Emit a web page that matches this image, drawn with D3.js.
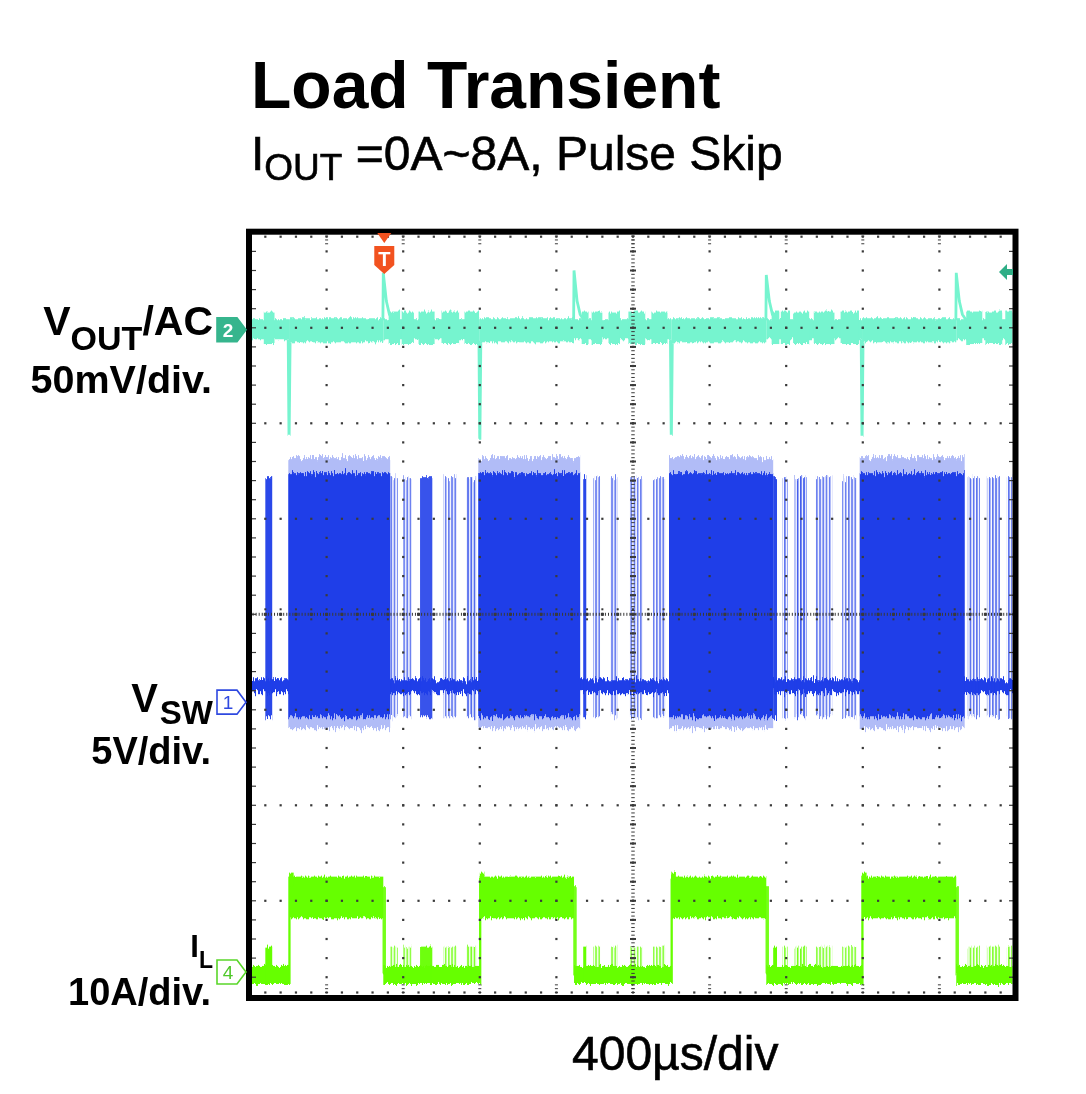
<!DOCTYPE html>
<html><head><meta charset="utf-8">
<script src="https://cdn.jsdelivr.net/npm/d3@7"></script>
<style>
body{margin:0;background:#fff}
svg{display:block}
text{font-family:"Liberation Sans",Arial,Helvetica,sans-serif}
</style>
</head><body>
<svg id="chart" width="1086" height="1094"></svg>
<script>
// ================= DATA (time in divisions, 400 µs/div) =================
const timeDivs = [0, 10];
const voltDivs = [-4, 4];
const loadStepUp   = [0.51, 3.00, 5.50, 7.99];
const loadStepDown = [1.74, 4.23, 6.74, 9.22];
const switchBlockStart = [0.50, 2.98, 5.47, 7.96];
const switchBlockEnd   = [1.83, 4.31, 6.83, 9.33];
// pulse-skip bursts at light load
const burstStart    = [0.20,1.83,2.00,2.22,2.52,2.82,4.35,4.48,4.70,4.96,5.26,6.83,6.95,7.11,7.38,7.73,9.37,9.62,9.88];
const burstEnd      = [0.29,1.93,2.11,2.38,2.70,2.96,4.39,4.57,4.80,5.13,5.42,6.88,7.02,7.27,7.60,7.92,9.53,9.79,9.95];
const burstStrength = [1.0,0.5,0.5,0.9,0.5,0.7,1.0,0.5,0.5,0.5,0.5,1.0,0.6,0.8,0.5,0.5,0.6,0.6,0.6];
// channel scaling: units per division and ground offset (divisions)
const channelNames   = ["VOUT", "VSW", "IL"];
const unitsPerDiv    = [50, 5, 10];      // mV, V, A
const groundOffset   = [3.0, -0.92, -3.745];
// VOUT (mV, AC coupled)
const voutHeavyBand = [-7.6, 5.0];
const voutLightBand = [-6.0, 4.5];
const voutBurstBand = [-8.5, 8.5];
const voutSpikeUp   = [28.8, 30.0, 27.7, 28.8];
const voutSpikeDown = [-56.5, -58.6, -56.5, -56.5];
const voutUpDecay   = [4, 28, 14, 7, 4];   // shape after load release
// VSW (V)
const vswIdleBand  = [0.47, 1.20];
const vswBlockCore = [-0.79, 11.99];
const vswBlockFuzz = [-1.36, 12.83];
const vswBurstBand = [-0.79, 11.78];
// IL (A)
const ilLowBand   = [-1.26, 0.63];
const ilHighBand  = [5.62, 9.98];
const ilOvershoot = 10.4;
const ilBurstPeak = 2.65;

// ================= SCALES =================
const svg = d3.select("#chart");
const x = d3.scaleLinear().domain(timeDivs).range([250, 1016]);
const yDiv = d3.scaleLinear().domain(voltDivs).range([996.3, 232.3]);
const chScale = channelNames.map((n, i) => d3.scaleLinear()
  .domain([unitsPerDiv[i] * (voltDivs[0] - groundOffset[i]), unitsPerDiv[i] * (voltDivs[1] - groundOffset[i])])
  .range([996.3, 232.3]));
const [yV, yS, yI] = chScale;

const COL_VOUT = "#76f4cf", COL_VSW = "#1f3ee8", COL_IL = "#66ff00";

// ================= DEFS =================
const defs = svg.append("defs");
defs.append("clipPath").attr("id", "plotclip").append("rect")
  .attr("x", 252).attr("y", 234.7).attr("width", 760.5).attr("height", 760.3);

function noiseFilter(id, freq, scale, seed) {
  const f = defs.append("filter").attr("id", id)
    .attr("filterUnits", "userSpaceOnUse").attr("x", 0).attr("y", 0)
    .attr("width", 1086).attr("height", 1094)
    .attr("color-interpolation-filters", "sRGB");
  f.append("feTurbulence").attr("type", "fractalNoise").attr("baseFrequency", freq)
    .attr("numOctaves", 2).attr("seed", seed).attr("result", "n");
  f.append("feColorMatrix").attr("in", "n").attr("type", "matrix")
    .attr("values", "0 0 0 0 0.5  0 1 0 0 0  0 0 0 0 0  0 0 0 0 1").attr("result", "m");
  f.append("feDisplacementMap").attr("in", "SourceGraphic").attr("in2", "m")
    .attr("scale", scale).attr("xChannelSelector", "R").attr("yChannelSelector", "G");
}
noiseFilter("nVout", "0.6 0.04", 6, 3);
noiseFilter("nVsw", "0.9 0.04", 14, 7);
noiseFilter("nIl", "0.7 0.04", 7, 11);

function stripes(id, color) {
  const p = defs.append("pattern").attr("id", id).attr("patternUnits", "userSpaceOnUse")
    .attr("width", 3.2).attr("height", 20);
  p.append("rect").attr("x", 0).attr("y", 0).attr("width", 1.8).attr("height", 20).attr("fill", color);
}
stripes("stVsw", COL_VSW);
stripes("stIl", COL_IL);

svg.append("rect").attr("width", 1086).attr("height", 1094).attr("fill", "#fff");

// intervals
const heavy = loadStepUp.map((u, i) => [u, loadStepDown[i]]);
const light = [[timeDivs[0], loadStepUp[0]]];
loadStepDown.forEach((d, i) => light.push([d, i + 1 < loadStepUp.length ? loadStepUp[i + 1] : timeDivs[1]]));
const bursts = burstStart.map((s, i) => ({s, e: burstEnd[i], k: burstStrength[i]}));
const blocks = switchBlockStart.map((s, i) => [s, switchBlockEnd[i]]);

const plot = svg.append("g").attr("clip-path", "url(#plotclip)");

function band(g, iv, lo, hi, ys, fill, op) {
  g.append("rect").attr("x", x(iv[0])).attr("width", Math.max(0.8, x(iv[1]) - x(iv[0])))
    .attr("y", ys(hi)).attr("height", ys(lo) - ys(hi)).attr("fill", fill).attr("opacity", op == null ? 1 : op);
}

// ---------- VOUT ----------
const gV = plot.append("g").attr("filter", "url(#nVout)");
light.forEach(iv => band(gV, iv, voutLightBand[0], voutLightBand[1], yV, COL_VOUT));
heavy.forEach(iv => band(gV, iv, voutHeavyBand[0], voutHeavyBand[1], yV, COL_VOUT));
bursts.forEach(b => band(gV, [b.s - 0.02, b.e + 0.03], voutBurstBand[0], voutBurstBand[1], yV, COL_VOUT));
const lineV = d3.line().x(d => x(d[0])).y(d => yV(d[1]));
loadStepUp.forEach((t, i) => {
  gV.append("path").attr("d", lineV([[t - 0.01, voutLightBand[0]], [t, voutSpikeDown[i]], [t + 0.012, voutHeavyBand[0]]]))
    .attr("fill", "none").attr("stroke", COL_VOUT).attr("stroke-width", 3);
});
const gVs = plot.append("g");
loadStepDown.forEach((t, i) => {
  const pts = [[t - 0.005, voutUpDecay[0]], [t, voutSpikeUp[i]], [t + 0.04, voutUpDecay[2]], [t + 0.08, voutUpDecay[3]], [t + 0.13, voutUpDecay[4]]];
  gVs.append("path").attr("d", lineV(pts)).attr("fill", "none").attr("stroke", COL_VOUT).attr("stroke-width", 2.8);
});

// ---------- VSW ----------
const gS = plot.append("g").attr("filter", "url(#nVsw)");
band(gS, timeDivs, vswIdleBand[0], vswIdleBand[1], yS, COL_VSW);
bursts.forEach(b => {
  band(gS, [b.s, b.e], vswBurstBand[0], vswBurstBand[1], yS, b.k >= 0.9 ? COL_VSW : "url(#stVsw)", 0.35 + 0.6 * b.k);
});
blocks.forEach(iv => band(gS, iv, vswBlockFuzz[0], vswBlockFuzz[1], yS, COL_VSW, 0.35));
blocks.forEach(iv => band(gS, iv, vswBlockCore[0], vswBlockCore[1], yS, COL_VSW, 1));

// ---------- IL ----------
const gI = plot.append("g").attr("filter", "url(#nIl)");
light.forEach(iv => band(gI, iv, ilLowBand[0], ilLowBand[1], yI, COL_IL));
heavy.forEach(iv => band(gI, iv, ilHighBand[0], ilHighBand[1], yI, COL_IL));
bursts.forEach(b => band(gI, [b.s, b.e], ilLowBand[0], ilBurstPeak, yI, b.k >= 0.9 ? COL_IL : "url(#stIl)", 0.45 + 0.55 * b.k));
loadStepUp.forEach(t => {
  band(gI, [t - 0.01, t + 0.02], ilLowBand[0], ilHighBand[1], yI, COL_IL);
  band(gI, [t, t + 0.06], ilHighBand[1] - 1, ilOvershoot, yI, COL_IL);
});
loadStepDown.forEach(t => {
  band(gI, [t - 0.01, t + 0.035], ilLowBand[0] + 1, ilHighBand[1] - 1, yI, COL_IL, 0.9);
});

// ================= GRID =================
const grid = svg.append("g").attr("fill", "#3a3a3a");
function dot(cx, cy, w, h) { grid.append("rect").attr("x", cx - w / 2).attr("y", cy - h / 2).attr("width", w).attr("height", h); }
const fifths = d3.range(voltDivs[0] * 5 + 1, voltDivs[1] * 5);
const fifthsX = d3.range(timeDivs[0] * 5 + 1, timeDivs[1] * 5);
d3.range(1, 10).forEach(k => {
  fifths.forEach(j => dot(x(k), yDiv(j / 5), 2.2, 2.2));
  [0.04, 0.08, 0.12].forEach(o => { dot(x(k), yDiv(4 - o), 3, 1); dot(x(k), yDiv(-4 + o), 3, 1); });
});
d3.range(-3, 4).forEach(j => {
  fifthsX.forEach(i => dot(x(i / 5), yDiv(j), 2.2, 2.2));
});
fifthsX.forEach(i => { dot(x(i / 5), yDiv(4) + 4.4, 2.2, 2.2); dot(x(i / 5), yDiv(-4) - 3.8, 2.2, 2.2); });
fifths.forEach(j => { dot(x(0) + 4, yDiv(j / 5), 4, 1.2); dot(x(10) - 5, yDiv(j / 5), 4, 1.2); });
d3.range(-100, 101).forEach(q => dot(x(5), yDiv(q / 25), 3.5, 1));
d3.range(1, 250).forEach(q => dot(x(q / 25), yDiv(0), 1, 3));
fifths.forEach(j => dot(x(5), yDiv(j / 5), 6, 2));
fifthsX.forEach(i => { dot(x(i / 5), yDiv(0) - 5, 2, 2); dot(x(i / 5), yDiv(0) + 5, 2, 2); dot(x(i / 5), yDiv(0), 3, 3); });

// ================= FRAME =================
svg.append("rect").attr("x", 249).attr("y", 231.7).attr("width", 766.5).attr("height", 766.3)
  .attr("fill", "none").attr("stroke", "#000").attr("stroke-width", 6);

// ================= MARKERS =================
function chMarker(cy, fill, stroke, label, txtColor) {
  const g = svg.append("g");
  const p = d3.path();
  p.moveTo(217, cy - 12); p.lineTo(237, cy - 12); p.lineTo(246, cy); p.lineTo(237, cy + 12); p.lineTo(217, cy + 12); p.closePath();
  g.append("path").attr("d", p.toString()).attr("fill", fill).attr("stroke", stroke).attr("stroke-width", 1.6);
  g.append("text").attr("x", 228).attr("y", cy + 7).attr("text-anchor", "middle")
    .attr("font-size", 19).attr("font-weight", fill === "#fff" ? "normal" : "bold").attr("fill", txtColor).text(label);
}
chMarker(yV(0) + 2, "#36b58d", "#36b58d", "2", "#fff");
chMarker(yS(0), "#fff", "#2f49e0", "1", "#2f49e0");
chMarker(yI(0), "#fff", "#5ad62a", "4", "#4fc82a");

// trigger marker
const tx = x(loadStepDown[0]) + 1;
const trig = svg.append("g").attr("fill", "#f2521f");
trig.append("path").attr("d", `M${tx - 7},233 L${tx + 7},233 L${tx},243 Z`);
trig.append("path").attr("d", `M${tx - 10},246 L${tx + 10},246 L${tx + 10},265 L${tx},274 L${tx - 10},265 Z`);
svg.append("text").attr("x", tx).attr("y", 266).attr("text-anchor", "middle").attr("font-size", 20)
  .attr("font-weight", "bold").attr("fill", "#fff").text("T");
// trigger level arrow
svg.append("path").attr("d", "M999,272 L1007,264 L1007,269 L1013,269 L1013,275 L1007,275 L1007,280 Z")
  .attr("fill", "#2fae86");

// ================= TEXT =================
svg.append("text").attr("x", 251).attr("y", 108).attr("font-size", 66).attr("font-weight", "bold")
  .attr("fill", "#000").text("Load Transient");
const sub = svg.append("text").attr("x", 251).attr("y", 170).attr("font-size", 48).attr("fill", "#000")
  .attr("stroke", "#000").attr("stroke-width", 0.6);
sub.append("tspan").text("I");
sub.append("tspan").attr("font-size", 37).attr("dy", 10).text("OUT");
sub.append("tspan").attr("dy", -10).text(" =0A~8A, Pulse Skip");

const lab = svg.append("g").attr("font-weight", "bold").attr("fill", "#000").attr("text-anchor", "end");
// VOUT label
const t1 = lab.append("text").attr("font-size", 41);
t1.append("tspan").attr("x", 213).attr("y", 335).text("V");
t1.append("tspan").attr("font-size", 34).attr("dy", 15).text("OUT");
t1.append("tspan").attr("dy", -15).text("/AC");
t1.append("tspan").attr("x", 212).attr("y", 393).attr("font-size", 39.5).text("50mV/div.");
// VSW label
const t2 = lab.append("text").attr("font-size", 40);
t2.append("tspan").attr("x", 213).attr("y", 712).attr("letter-spacing", 2).text("V");
t2.append("tspan").attr("font-size", 33).attr("dy", 12).text("SW");
t2.append("tspan").attr("x", 211).attr("y", 764).attr("font-size", 38).text("5V/div.");
// IL label
const t3 = lab.append("text").attr("font-size", 31);
t3.append("tspan").attr("x", 213).attr("y", 957).text("I");
t3.append("tspan").attr("font-size", 23).attr("dy", 11).text("L");
t3.append("tspan").attr("x", 211).attr("y", 1005).attr("font-size", 38).text("10A/div.");

svg.append("text").attr("x", 572).attr("y", 1070).attr("font-size", 48).attr("fill", "#000")
  .attr("stroke", "#000").attr("stroke-width", 0.6).text("400µs/div");
</script>
</body></html>
